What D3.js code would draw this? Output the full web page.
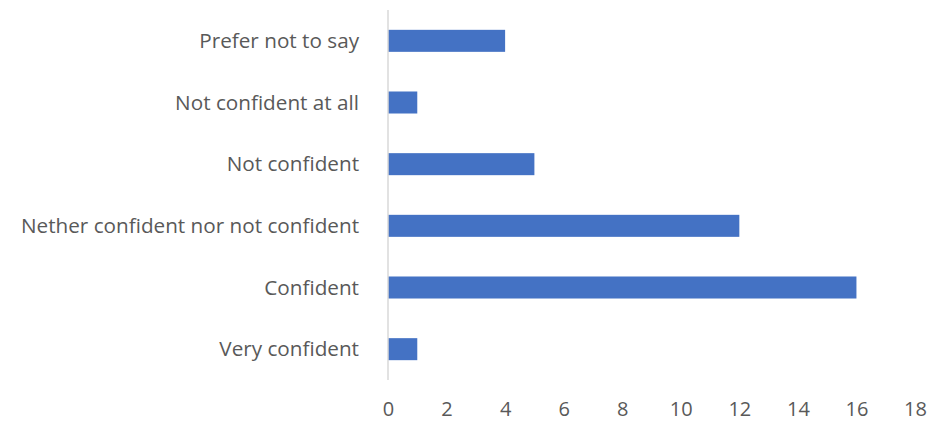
<!DOCTYPE html>
<html><head><meta charset="utf-8">
<script src="https://cdn.jsdelivr.net/npm/d3@7"></script>
<style>body{margin:0;background:#fff}svg{display:block}</style>
</head><body>
<script>
const categories = ["Prefer not to say","Not confident at all","Not confident","Nether confident nor not confident","Confident","Very confident"];
const values = [4,1,5,12,16,1];
const tickValues = [0,2,4,6,8,10,12,14,16,18];

const W=930,H=421;
const svg=d3.select("body").append("svg").attr("width",W).attr("height",H);
const x=d3.scaleLinear().domain([0,18]).range([388,915]);
const y=d3.scaleBand().domain(categories).range([10,380]).paddingInner(0.643).paddingOuter(0.3215);
const font="'Open Sans', sans-serif";

svg.selectAll("rect.bar").data(categories).join("rect")
  .attr("x",x(0)).attr("y",d=>y(d)).attr("width",(d,i)=>x(values[i])-x(0)).attr("height",y.bandwidth())
  .attr("fill","#4472C4");

svg.append("line").attr("x1",x(0)).attr("x2",x(0)).attr("y1",10).attr("y2",380)
  .attr("stroke","#D9D9D9").attr("stroke-width",1.5);

const xa=svg.append("g").attr("transform","translate(0,380)").call(d3.axisBottom(x).tickValues(tickValues).tickSize(0).tickPadding(22));
xa.select(".domain").remove();
xa.selectAll("text").attr("font-family",font).attr("font-size",20).attr("fill","#595959");

svg.selectAll("text.cat").data(categories).join("text").attr("class","cat")
  .attr("x",359).attr("y",d=>y(d)+y.bandwidth()/2).attr("dy","0.35em")
  .attr("text-anchor","end").attr("font-family",font).attr("font-size",20.7).attr("fill","#595959")
  .text(d=>d);
</script>
</body></html>
